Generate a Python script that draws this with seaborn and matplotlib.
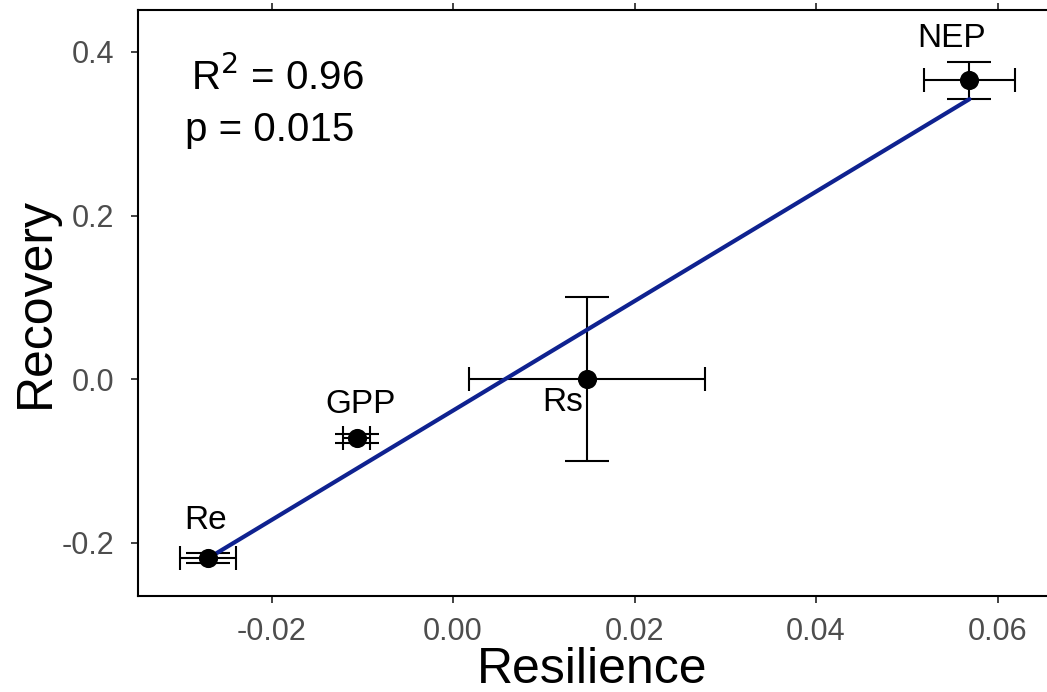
import matplotlib
matplotlib.use("Agg")
import matplotlib.pyplot as plt
import seaborn as sns
import pandas as pd

# Flux components: resilience vs recovery, with standard errors
components = ["Re", "GPP", "Rs", "NEP"]
resilience = [-0.0270, -0.0106, 0.0148, 0.0569]
resilience_se = [0.0031, 0.0015, 0.0130, 0.0050]
recovery = [-0.2183, -0.0725, 0.0000, 0.3653]
recovery_se = [0.0060, 0.0050, 0.1000, 0.0230]

# Label offsets (pixels) for the component names
label_dx = [-2, 4, -25, -18]
label_dy = [37, 34, -23, 42]

stats_r2 = "0.96"
stats_p = "0.015"

df = pd.DataFrame({"component": components, "resilience": resilience,
                   "resilience_se": resilience_se, "recovery": recovery,
                   "recovery_se": recovery_se})

sns.set_theme(style="white")
plt.rcParams["font.family"] = ["Liberation Sans", "DejaVu Sans"]

fig = plt.figure(figsize=(10.47, 6.92), dpi=100)
ax = fig.add_axes([138 / 1047, 1 - 596 / 692, 1 - 138 / 1047, (596 - 10) / 692])

# Vertical error bars (wide caps) and horizontal error bars (short caps)
ax.errorbar(df["resilience"], df["recovery"], yerr=df["recovery_se"], fmt="none",
            ecolor="black", elinewidth=1.5, capsize=16, capthick=1.5, zorder=2)
ax.errorbar(df["resilience"], df["recovery"], xerr=df["resilience_se"], fmt="none",
            ecolor="black", elinewidth=1.5, capsize=8.3, capthick=1.5, zorder=2)

sns.regplot(data=df, x="resilience", y="recovery", ci=None, scatter=False, ax=ax,
            line_kws={"color": "#0f2290", "lw": 3.0, "zorder": 3})

sns.scatterplot(data=df, x="resilience", y="recovery", color="black", s=190,
                edgecolor="black", linewidth=0, ax=ax, zorder=4)

for name, x, y, dx, dy in zip(components, resilience, recovery, label_dx, label_dy):
    ax.annotate(name, (x, y), xytext=(dx, dy), textcoords="offset pixels",
                ha="center", va="center", fontsize=24, color="black")

ax.text(-0.01939, 0.369, f"R$^2$ = {stats_r2}", ha="center", va="center",
        fontsize=29, color="black")
ax.text(-0.02017, 0.3042, f"p = {stats_p}", ha="center", va="center",
        fontsize=29, color="black")

ax.set_xlim(-0.03471, 0.06545)
ax.set_ylim(-0.2651, 0.4513)
ax.set_xticks([-0.02, 0.0, 0.02, 0.04, 0.06])
ax.set_xticklabels(["-0.02", "0.00", "0.02", "0.04", "0.06"])
ax.set_yticks([-0.2, 0.0, 0.2, 0.4])
ax.set_yticklabels(["-0.2", "0.0", "0.2", "0.4"])

ax.set_xlabel("Resilience", fontsize=36, color="black", labelpad=0)
ax.set_ylabel("Recovery", fontsize=36, color="black", labelpad=2)

for side in ["left", "bottom", "top"]:
    ax.spines[side].set_visible(True)
    ax.spines[side].set_color("black")
    ax.spines[side].set_linewidth(1.5)
ax.spines["right"].set_visible(False)

ax.tick_params(axis="both", which="major", direction="out", length=5, width=1.3,
               color="#333333", labelcolor="#4d4d4d", labelsize=22)
ax.tick_params(axis="x", top=True, labeltop=False, bottom=True, pad=10)
ax.tick_params(axis="y", left=True, right=False, pad=12)

fig.savefig("out.png", dpi=100)
